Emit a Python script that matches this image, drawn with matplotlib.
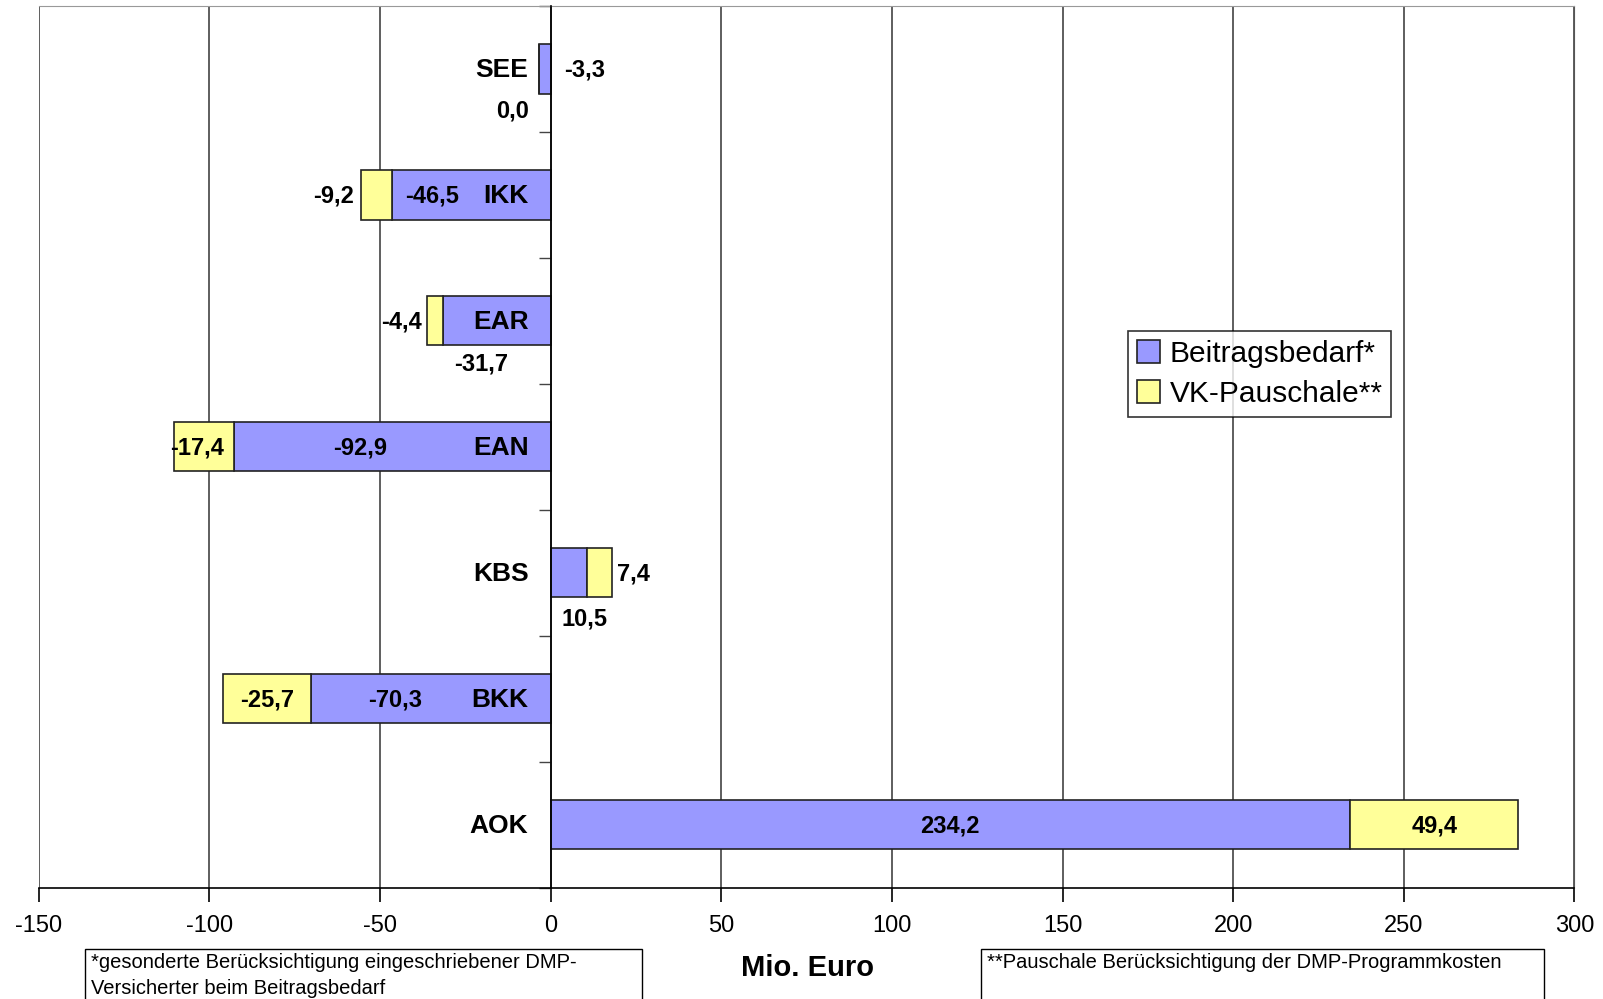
import matplotlib
matplotlib.use("Agg")
import matplotlib.pyplot as plt
from matplotlib.patches import Rectangle

plt.rcParams['font.family'] = ['Liberation Sans', 'DejaVu Sans']
plt.rcParams['axes.unicode_minus'] = False

# Daten (Mio. Euro)
kassen = ['SEE', 'IKK', 'EAR', 'EAN', 'KBS', 'BKK', 'AOK']
beitragsbedarf = [-3.3, -46.5, -31.7, -92.9, 10.5, -70.3, 234.2]
vk_pauschale = [0.0, -9.2, -4.4, -17.4, 7.4, -25.7, 49.4]

# Verschiebung der Datenbeschriftungen (dx in Mio. Euro, dy in Kategorien)
off_beitrag = [(11.5, 0), (-11.5, 0), (-4.5, 0.33), (-9.3, 0), (4.6, 0.36), (-10.3, 0), (0, 0)]
off_vk = [(-7.8, 0.32), (-12.4, 0), (-9.8, 0), (-2.0, 0), (10.1, 0), (0, 0), (0, 0)]

c_blau = '#9999FF'
c_gelb = '#FFFF99'

fig = plt.figure(figsize=(16.03, 9.99), dpi=100)
ax = fig.add_axes([0.0242, 0.1116, 0.958, 0.8823])

n = len(kassen)
ypos = [n - 1 - i for i in range(n)]
h = 0.39

ax.barh(ypos, beitragsbedarf, height=h, color=c_blau, edgecolor='#222222', lw=1.2,
        label='Beitragsbedarf*', zorder=3)
ax.barh(ypos, vk_pauschale, left=beitragsbedarf, height=h, color=c_gelb, edgecolor='#222222',
        lw=1.2, label='VK-Pauschale**', zorder=3)

fmt = lambda v: ('%.1f' % v).replace('.', ',')
for i in range(n):
    y = ypos[i]
    b = beitragsbedarf[i]
    v = vk_pauschale[i]
    cb = b / 2
    cv = b + v / 2
    ax.text(cb + off_beitrag[i][0], y - off_beitrag[i][1] - 0.01, fmt(b), ha='center', va='center',
            fontsize=17, fontweight='bold', zorder=5)
    ax.text(cv + off_vk[i][0], y - off_vk[i][1] - 0.01, fmt(v), ha='center', va='center',
            fontsize=17, fontweight='bold', zorder=5)
    ax.annotate(kassen[i], (0, y), xytext=(-16, -1), textcoords='offset points',
                ha='right', va='center', fontsize=19, fontweight='bold', zorder=5)

ax.set_xlim(-150, 300)
ax.set_ylim(-0.5, n - 0.5)
ax.set_xticks(range(-150, 301, 50))
ax.set_yticks([k - 0.5 for k in range(n + 1)])
ax.set_yticklabels([])
ax.grid(axis='x', color='#333333', lw=1.1, zorder=0)

ax.spines['left'].set_position(('data', 0))
ax.spines['left'].set_color('black')
ax.spines['left'].set_linewidth(1.2)
ax.spines['left'].set_zorder(4)
ax.spines['bottom'].set_color('black')
ax.spines['bottom'].set_linewidth(1.2)
ax.spines['top'].set_color('#999999')
ax.spines['right'].set_color('#555555')
ax.tick_params(axis='x', direction='out', length=10, width=1.2, pad=10, labelsize=17)
ax.tick_params(axis='y', direction='out', length=9, width=1, color='#444444')

leg = ax.legend(loc='upper left', bbox_to_anchor=(0.709, 0.631), fontsize=21.5, frameon=True,
                fancybox=False, edgecolor='black', handlelength=0.8, handleheight=0.8,
                handletextpad=0.3, borderpad=0.3, labelspacing=0.4, borderaxespad=0)
leg.get_frame().set_linewidth(1.2)

fig.text(0.504, 0.031, 'Mio. Euro', ha='center', va='center', fontsize=21, fontweight='bold')

# Fußnoten-Kästen
fig.patches.append(Rectangle((0.053, -0.01), 0.3475, 0.06, transform=fig.transFigure,
                             fill=False, edgecolor='black', lw=1))
fig.patches.append(Rectangle((0.612, -0.01), 0.351, 0.06, transform=fig.transFigure,
                             fill=False, edgecolor='black', lw=1))
fig.text(0.0565, 0.046, '*gesonderte Berücksichtigung eingeschriebener DMP-\nVersicherter beim Beitragsbedarf',
         ha='left', va='top', fontsize=14.5, linespacing=1.45)
fig.text(0.6155, 0.046, '**Pauschale Berücksichtigung der DMP-Programmkosten',
         ha='left', va='top', fontsize=14.5)

plt.savefig('out.png', dpi=100)
